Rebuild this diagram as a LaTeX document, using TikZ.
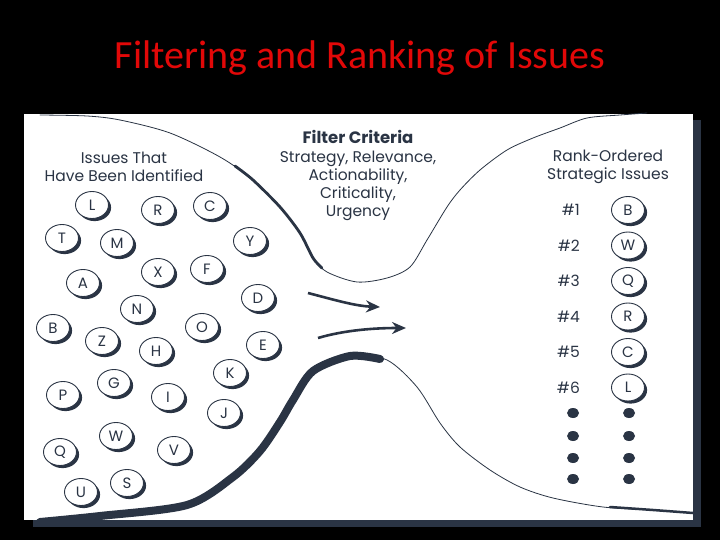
\documentclass[tikz,border=0pt]{standalone}
\usepackage{fontspec}
\setmainfont{Poppins}
\newfontfamily\titlefont{Carlito}
\usetikzlibrary{positioning, arrows.meta, shapes.geometric, shadows}
\definecolor{slate}{RGB}{42,52,68}
\definecolor{titlered}{RGB}{226,8,8}
\tikzset{
  issue/.style={
    ellipse, draw=slate, line width=0.9pt,
    fill=white,
    minimum width=33pt, minimum height=27pt,
    inner sep=0pt, text=slate,
    font=\fontsize{15}{15}\selectfont,
    drop shadow={shadow xshift=2.6pt, shadow yshift=-2.6pt, fill=slate, opacity=1}
  },
  rankdot/.style={
    ellipse, fill=slate,
    minimum width=12pt, minimum height=10pt, inner sep=0pt
  },
  ranklabel/.style={
    font=\fontsize{15.5}{15.5}\selectfont, text=slate, inner sep=0pt
  },
  heading/.style={
    align=center, font=\fontsize{15.5}{18}\selectfont,
    text=slate, inner sep=0pt
  },
  flowarrow/.style={
    -{Stealth[length=14pt, width=12pt]}, draw=slate, line width=2.6pt
  },
  funnel/.style={draw=slate, line cap=round, line join=round}
}

\begin{document}
\begin{tikzpicture}[x=1pt, y=-1pt]
  \fill[black] (0,0) rectangle (720,540);
  \useasboundingbox (0,0) rectangle (720,540);

  % panel with its shadow
  \fill[slate] (33,120) rectangle (701,527);
  \fill[white] (24,114) rectangle (693,520);

  \node[font=\titlefont\fontsize{40}{44}\selectfont, text=titlered] (title) at (360,58) {Filtering and Ranking of Issues};

  % funnel, upper wall
  \draw[funnel, line width=0.8pt] plot[smooth] coordinates {(40,115) (87,116) (120,120) (170,133) (220,157) (253,180) (280,207) (300,233) (313,258) (327,272) (357,282) (387,278) (410,267) (427,240) (447,207) (460,190) (480,170) (507,150) (533,138) (560,128) (587,118) (620,115) (647,113)};
  \draw[funnel, line width=2.8pt] plot[smooth] coordinates {(235,166) (253,180) (280,207) (300,233) (313,258) (322,268)};

  % funnel, lower wall
  \draw[funnel, line width=0.8pt] plot[smooth] coordinates {(40,523) (100,517) (187,507) (233,478) (260,452) (280,423) (293,400) (313,370) (350,355) (387,360) (417,387) (440,423) (460,447) (490,470) (520,487) (553,498) (603,507) (653,510) (693,513)};
  \draw[funnel, line width=8pt] plot[smooth] coordinates {(40,522) (100,516) (187,505) (233,477) (260,451) (280,422) (293,400) (313,371) (350,356) (380,359)};
  \draw[funnel, line width=2.5pt] plot[smooth] coordinates {(610,507) (653,510) (693,513)};

  % headings
  \node[heading] (found) at (124,167) {Issues That\\Have Been Identified};
  \node[heading, font=\bfseries\fontsize{16.5}{18}\selectfont] (filter) at (358,137) {Filter Criteria};
  \node[heading] (criteria) at (358,186) {Strategy, Relevance,\\Actionability,\\Criticality,\\Urgency};
  \node[heading] (ranked) at (608,167) {Rank-Ordered\\Strategic Issues};

  % issues that have been identified
  \node[issue] (iL) at (92,205) {L};
  \node[issue] (iR) at (158,210) {R};
  \node[issue] (iC) at (210,206) {C};
  \node[issue] (iT) at (62,238) {T};
  \node[issue] (iM) at (117,243) {M};
  \node[issue] (iY) at (250,241) {Y};
  \node[issue] (iX) at (158,272) {X};
  \node[issue] (iF) at (207,269) {F};
  \node[issue] (iA) at (83,283) {A};
  \node[issue] (iD) at (258,298) {D};
  \node[issue] (iN) at (137,309) {N};
  \node[issue] (iO) at (202,327) {O};
  \node[issue] (iB) at (53,328) {B};
  \node[issue] (iZ) at (102,341) {Z};
  \node[issue] (iH) at (156,351) {H};
  \node[issue] (iE) at (263,345) {E};
  \node[issue] (iK) at (230,373) {K};
  \node[issue] (iG) at (114,383) {G};
  \node[issue] (iI) at (168,397) {I};
  \node[issue] (iP) at (63,395) {P};
  \node[issue] (iJ) at (224,413) {J};
  \node[issue] (iW) at (116,436) {W};
  \node[issue] (iV) at (174,450) {V};
  \node[issue] (iQ) at (60,452) {Q};
  \node[issue] (iU) at (81,492) {U};
  \node[issue] (iS) at (127,483) {S};

  % flow through the filter
  \coordinate (upper-tail) at (308,293);
  \coordinate (upper-tip) at (380,307);
  \coordinate (lower-tail) at (318,338);
  \coordinate (lower-tip) at (406,328);
  \draw[flowarrow] (upper-tail) .. controls (335,300) and (355,306) .. (upper-tip);
  \draw[flowarrow] (lower-tail) .. controls (345,330) and (375,328) .. (lower-tip);

  % rank-ordered issues
  \node[issue] (rk1) at (628,210) {B};
  \node[issue, below=7.6pt of rk1] (rk2) {W};
  \node[issue, below=7.6pt of rk2] (rk3) {Q};
  \node[issue, below=7.6pt of rk3] (rk4) {R};
  \node[issue, below=7.6pt of rk4] (rk5) {C};
  \node[issue, below=7.6pt of rk5] (rk6) {L};

  \node[ranklabel, left=31pt of rk1] (n1) {\#1};
  \node[ranklabel, left=31pt of rk2] (n2) {\#2};
  \node[ranklabel, left=31pt of rk3] (n3) {\#3};
  \node[ranklabel, left=31pt of rk4] (n4) {\#4};
  \node[ranklabel, left=31pt of rk5] (n5) {\#5};
  \node[ranklabel, left=31pt of rk6] (n6) {\#6};

  \foreach \y in {413,436,458,479} {
    \node[rankdot] at (573,\y) {};
    \node[rankdot] at (629,\y) {};
  }
\end{tikzpicture}
\end{document}
